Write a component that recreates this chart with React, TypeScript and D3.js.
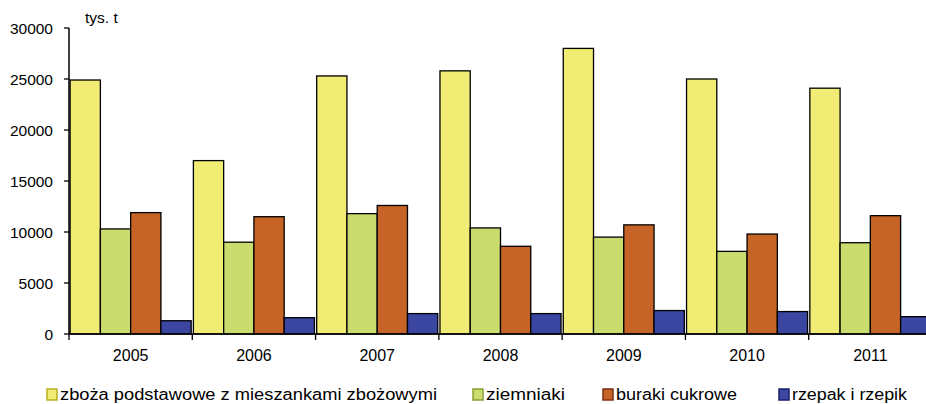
import React from "react";
import * as d3 from "d3";

const years = ["2005", "2006", "2007", "2008", "2009", "2010", "2011"];
const seriesNames = [
  "zboża podstawowe z mieszankami zbożowymi",
  "ziemniaki",
  "buraki cukrowe",
  "rzepak i rzepik",
];
const zboza = [24900, 17000, 25300, 25800, 28000, 25000, 24100];
const ziemniaki = [10300, 9000, 11800, 10400, 9500, 8100, 8950];
const buraki = [11900, 11500, 12600, 8600, 10700, 9800, 11600];
const rzepak = [1300, 1600, 2000, 2000, 2300, 2200, 1700];
const yTicks = [0, 5000, 10000, 15000, 20000, 25000, 30000];
const colors = ["#F0EC74", "#CADC6E", "#C66428", "#3A46A0"];
const legendStroke = ["#B8B020", "#8AA030", "#7A3010", "#1A2070"];

export default function App() {
  const W = 926, H = 404;
  const left = 69, right = 932, top = 28, bottom = 334;
  const series = [zboza, ziemniaki, buraki, rzepak];
  const x0 = d3.scaleBand<string>().domain(years).range([left, right]).paddingInner(0.018).paddingOuter(0.009);
  const x1 = d3.scaleBand<number>().domain([0, 1, 2, 3]).range([0, x0.bandwidth()]);
  const y = d3.scaleLinear().domain([0, 30000]).range([bottom, top]);
  const font = "'Liberation Sans', Arial, sans-serif";
  const legendX = [47, 473, 603, 779];
  const legendLen = [377, 79, 121, 115];
  const catTicks = d3.range(years.length + 1).map((i) => left + (i * (right - left)) / years.length);
  return (
    <svg width={W} height={H} style={{ position: "absolute", left: 0, top: 0, background: "#fff" }} fontFamily={font}>
      <text x={85} y={23} fontSize={15.5} fill="#000">tys. t</text>
      {years.map((yr) =>
        series.map((s, si) => {
          const v = s[years.indexOf(yr)];
          return (
            <rect
              key={yr + si}
              x={(x0(yr) as number) + (x1(si) as number)}
              y={y(v)}
              width={x1.bandwidth()}
              height={bottom - y(v)}
              fill={colors[si]}
              stroke="#000"
              strokeWidth={1.3}
            />
          );
        })
      )}
      <line x1={left} x2={left} y1={top} y2={bottom} stroke="#000" strokeWidth={1.5} />
      <line x1={left} x2={right} y1={bottom} y2={bottom} stroke="#000" strokeWidth={1.5} />
      {yTicks.map((t) => (
        <g key={t}>
          <line x1={left - 5} x2={left} y1={y(t)} y2={y(t)} stroke="#000" strokeWidth={1.3} />
          <text x={53} y={y(t) + 5.5} fontSize={15.5} textAnchor="end" fill="#000">{t}</text>
        </g>
      ))}
      {catTicks.map((cx, i) => (
        <line key={i} x1={cx} x2={cx} y1={bottom} y2={bottom + 6} stroke="#000" strokeWidth={1.3} />
      ))}
      {years.map((yr) => (
        <text key={yr} x={(x0(yr) as number) + x0.bandwidth() / 2} y={361} fontSize={16} textAnchor="middle" fill="#000">{yr}</text>
      ))}
      {seriesNames.map((n, i) => (
        <g key={n}>
          <rect x={legendX[i]} y={389} width={10} height={11} fill={colors[i]} stroke={legendStroke[i]} strokeWidth={1.5} />
          <text x={legendX[i] + 13} y={400} fontSize={16} fill="#000" textLength={legendLen[i]} lengthAdjust="spacingAndGlyphs">{n}</text>
        </g>
      ))}
    </svg>
  );
}
